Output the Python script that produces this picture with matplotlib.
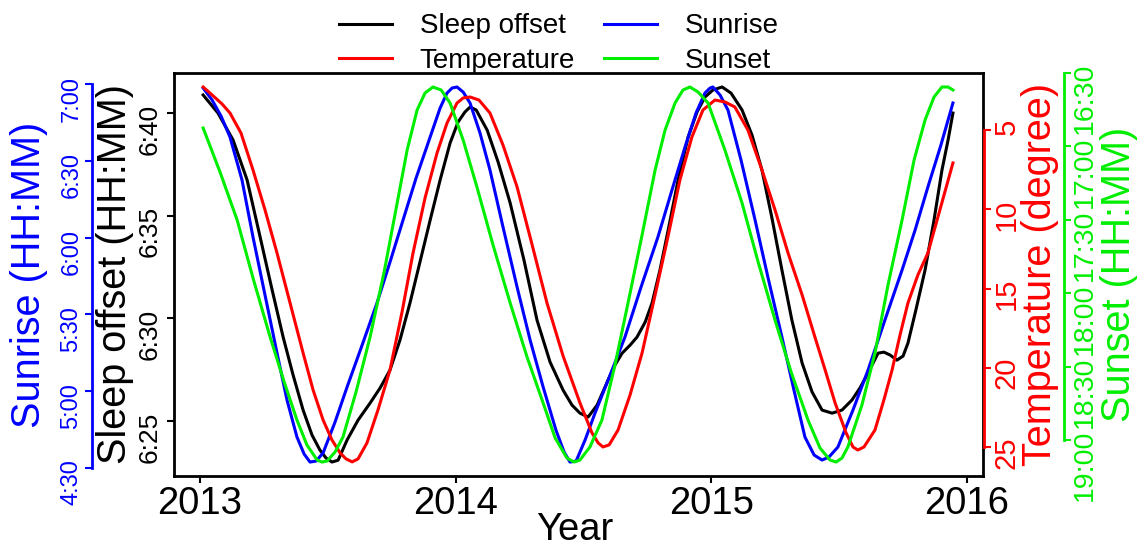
import matplotlib
matplotlib.use("Agg")
import matplotlib.pyplot as plt

plt.rcParams['font.family'] = ['Liberation Sans', 'DejaVu Sans']

# Sleep offset (minutes after midnight)
sleep_year = [2013.012, 2013.070, 2013.129, 2013.184, 2013.235, 2013.282, 2013.325, 2013.364,
              2013.403, 2013.438, 2013.469, 2013.493, 2013.516, 2013.540, 2013.575, 2013.618,
              2013.665, 2013.704, 2013.743, 2013.782, 2013.821, 2013.860, 2013.900, 2013.939,
              2013.978, 2014.009, 2014.036, 2014.056, 2014.080, 2014.123, 2014.166, 2014.213,
              2014.267, 2014.318, 2014.369, 2014.420, 2014.455, 2014.486, 2014.518, 2014.553,
              2014.596, 2014.623, 2014.651, 2014.682, 2014.709, 2014.741, 2014.768, 2014.799,
              2014.831, 2014.870, 2014.909, 2014.944, 2014.975, 2015.006, 2015.042, 2015.077,
              2015.120, 2015.159, 2015.198, 2015.237, 2015.276, 2015.315, 2015.355, 2015.394,
              2015.433, 2015.472, 2015.511, 2015.550, 2015.581, 2015.613, 2015.652, 2015.675,
              2015.699, 2015.726, 2015.750, 2015.769, 2015.800, 2015.836, 2015.871, 2015.902,
              2015.926, 2015.945]
sleep_min = [400.88, 400.00, 398.69, 396.74, 393.96, 391.38, 389.09, 387.24,
             385.54, 384.32, 383.59, 383.20, 383.01, 383.10, 384.08, 385.05,
             385.88, 386.61, 387.49, 388.95, 390.75, 392.74, 394.79, 396.74,
             398.54, 399.56, 400.05, 400.29, 400.15, 399.17, 397.61, 395.62,
             392.84, 389.92, 387.88, 386.51, 385.78, 385.39, 385.20, 385.78,
             387.00, 387.73, 388.31, 388.70, 389.09, 389.82, 390.75, 392.36,
             394.30, 396.74, 398.83, 400.05, 400.78, 401.12, 401.27, 400.97,
             400.15, 398.93, 397.22, 394.89, 392.36, 389.92, 387.83, 386.42,
             385.54, 385.39, 385.54, 386.03, 386.61, 387.34, 388.31, 388.36,
             388.22, 387.97, 388.17, 388.80, 390.41, 392.36, 394.79, 397.22,
             398.69, 400.00]

# Sunrise (minutes after midnight)
sunrise_year = [2013.012, 2013.047, 2013.082, 2013.117, 2013.164, 2013.207, 2013.254, 2013.301,
                2013.340, 2013.379, 2013.407, 2013.430, 2013.454, 2013.481, 2013.528, 2013.575,
                2013.634, 2013.692, 2013.743, 2013.794, 2013.845, 2013.900, 2013.939, 2013.966,
                2013.986, 2014.005, 2014.029, 2014.056, 2014.095, 2014.134, 2014.185, 2014.240,
                2014.291, 2014.342, 2014.392, 2014.424, 2014.447, 2014.471, 2014.506, 2014.545,
                2014.604, 2014.662, 2014.725, 2014.791, 2014.846, 2014.897, 2014.940, 2014.975,
                2014.995, 2015.006, 2015.034, 2015.065, 2015.116, 2015.171, 2015.222, 2015.276,
                2015.323, 2015.366, 2015.402, 2015.433, 2015.460, 2015.495, 2015.554, 2015.613,
                2015.679, 2015.746, 2015.797, 2015.847, 2015.898, 2015.945]
sunrise_min = [418.44, 413.75, 407.50, 399.30, 382.50, 360.24, 337.58, 314.93,
               296.57, 282.12, 275.48, 272.35, 272.74, 275.87, 287.98, 301.65,
               318.06, 334.46, 350.47, 366.88, 383.28, 399.30, 410.63, 416.48,
               418.44, 418.83, 416.88, 412.58, 400.86, 386.41, 364.14, 340.71,
               320.00, 301.65, 284.85, 276.26, 272.35, 272.74, 280.95, 291.49,
               306.33, 321.18, 340.71, 360.24, 378.60, 395.39, 408.67, 416.48,
               418.44, 418.83, 415.70, 409.84, 390.31, 366.88, 344.22, 321.18,
               300.48, 282.12, 275.09, 273.13, 274.30, 278.21, 292.66, 308.29,
               327.82, 347.35, 362.97, 379.77, 396.17, 412.58]

# Temperature (degree)
temp_year = [2013.012, 2013.047, 2013.086, 2013.117, 2013.160, 2013.207, 2013.254, 2013.301,
             2013.352, 2013.403, 2013.442, 2013.481, 2013.516, 2013.548, 2013.571, 2013.595,
             2013.618, 2013.653, 2013.696, 2013.743, 2013.790, 2013.833, 2013.880, 2013.927,
             2013.966, 2014.005, 2014.029, 2014.056, 2014.091, 2014.134, 2014.185, 2014.240,
             2014.299, 2014.357, 2014.420, 2014.486, 2014.533, 2014.557, 2014.576, 2014.600,
             2014.635, 2014.682, 2014.729, 2014.780, 2014.830, 2014.877, 2014.924, 2014.967,
             2015.014, 2015.053, 2015.092, 2015.143, 2015.198, 2015.249, 2015.300, 2015.355,
             2015.405, 2015.445, 2015.484, 2015.527, 2015.554, 2015.573, 2015.597, 2015.640,
             2015.675, 2015.707, 2015.738, 2015.769, 2015.808, 2015.847, 2015.894, 2015.945]
temp_deg = [2.29, 2.79, 3.36, 3.93, 5.19, 7.52, 10.04, 12.76,
            15.91, 19.06, 21.39, 23.28, 24.55, 25.37, 25.74, 25.93,
            25.74, 24.73, 22.65, 20.13, 16.48, 12.76, 9.29, 6.45,
            4.56, 3.30, 2.98, 2.92, 3.11, 3.93, 5.95, 8.59,
            12.25, 15.91, 19.25, 22.21, 24.10, 24.73, 24.99, 24.86,
            23.92, 21.71, 19.06, 15.40, 11.75, 8.15, 5.44, 3.74,
            3.11, 3.23, 3.55, 5.00, 7.52, 10.04, 12.76, 15.40,
            18.05, 20.13, 22.21, 24.10, 24.99, 25.18, 24.99, 23.92,
            22.02, 20.13, 17.93, 15.91, 14.14, 12.76, 10.04, 7.08]

# Sunset (minutes after midnight)
sunset_year = [2013.012, 2013.078, 2013.145, 2013.207, 2013.274, 2013.329, 2013.379, 2013.418,
               2013.458, 2013.477, 2013.497, 2013.528, 2013.559, 2013.610, 2013.665, 2013.720,
               2013.771, 2013.810, 2013.849, 2013.880, 2013.911, 2013.943, 2013.978, 2014.029,
               2014.083, 2014.146, 2014.213, 2014.279, 2014.342, 2014.389, 2014.435, 2014.463,
               2014.486, 2014.525, 2014.572, 2014.623, 2014.674, 2014.729, 2014.780, 2014.819,
               2014.858, 2014.889, 2014.916, 2014.948, 2014.987, 2015.053, 2015.120, 2015.183,
               2015.249, 2015.312, 2015.378, 2015.425, 2015.464, 2015.488, 2015.511, 2015.534,
               2015.589, 2015.640, 2015.691, 2015.746, 2015.793, 2015.836, 2015.871, 2015.902,
               2015.926, 2015.945]
sunset_min = [1012.48, 1030.46, 1050.08, 1073.78, 1097.90, 1116.29, 1131.82, 1142.04,
              1148.17, 1148.99, 1148.58, 1144.90, 1138.77, 1120.38, 1097.90, 1071.33,
              1043.13, 1021.47, 1005.12, 998.17, 995.72, 996.95, 1002.26, 1017.38,
              1036.59, 1060.30, 1084.00, 1106.07, 1124.87, 1139.18, 1147.35, 1148.99,
              1148.17, 1142.85, 1131.82, 1109.34, 1084.00, 1056.21, 1029.64, 1013.30,
              1002.26, 996.95, 995.72, 997.77, 1002.26, 1021.47, 1043.13, 1067.24,
              1090.95, 1112.20, 1131.82, 1143.26, 1148.17, 1148.99, 1147.35, 1142.85,
              1125.69, 1104.44, 1076.64, 1050.08, 1025.56, 1009.21, 999.81, 995.72,
              995.72, 996.95]

years = [2013, 2014, 2015, 2016]
sleep_ticks = [385, 390, 395, 400]
sleep_labels = ['6:25', '6:30', '6:35', '6:40']
sunrise_ticks = [270, 300, 330, 360, 390, 420]
sunrise_labels = ['4:30', '5:00', '5:30', '6:00', '6:30', '7:00']
temp_ticks = [5, 10, 15, 20, 25]
sunset_ticks = [990, 1020, 1050, 1080, 1110, 1140]
sunset_labels = ['16:30', '17:00', '17:30', '18:00', '18:30', '19:00']

RED, BLUE, GREEN = '#ff0000', '#0000ff', '#00ee00'
W, H = 1144, 550

fig = plt.figure(figsize=(11.44, 5.5), dpi=100)
ax = fig.add_axes([174 / W, 1 - 476 / H, 809 / W, 403 / H])
ax.set_xlim(2012.898, 2016.0626)
for s in ax.spines.values():
    s.set_linewidth(2)

l1, = ax.plot(sleep_year, sleep_min, color='black', lw=2.2, label='Sleep offset', zorder=5)
ax.set_ylim(382.33, 401.95)
ax.set_yticks(sleep_ticks, sleep_labels)
ax.tick_params(axis='y', labelrotation=90, labelsize=19, length=5, width=1.5, pad=4)
ax.set_xticks(years, [str(y) for y in years])
ax.tick_params(axis='x', labelsize=27.5, length=5, width=1.5, pad=2)

axb = ax.twinx()
l2, = axb.plot(sunrise_year, sunrise_min, color=BLUE, lw=2.2, label='Sunrise')
axb.set_ylim(266.9, 424.3)
axb.yaxis.set_ticks_position('left')
axb.spines['left'].set_position(('axes', (92 - 174) / 809))
axb.spines['left'].set_bounds(270, 420)
axb.spines['left'].set_color(BLUE)
axb.spines['left'].set_linewidth(2)
for k in ['right', 'top', 'bottom']:
    axb.spines[k].set_visible(False)
axb.set_yticks(sunrise_ticks, sunrise_labels)
axb.tick_params(axis='y', labelrotation=90, labelsize=17, length=5, width=1.5, pad=2,
                colors=BLUE)

axr = ax.twinx()
l3, = axr.plot(temp_year, temp_deg, color=RED, lw=2.2, label='Temperature')
axr.set_ylim(26.82, 1.406)
axr.spines['right'].set_position(('axes', (984 - 174) / 809))
axr.spines['right'].set_bounds(5, 25)
axr.spines['right'].set_color(RED)
axr.spines['right'].set_linewidth(2)
for k in ['left', 'top', 'bottom']:
    axr.spines[k].set_visible(False)
axr.set_yticks(temp_ticks, [str(t) for t in temp_ticks])
axr.tick_params(axis='y', labelrotation=90, labelsize=21, length=5, width=1.5, pad=1,
                colors=RED)

axg = ax.twinx()
l4, = axg.plot(sunset_year, sunset_min, color=GREEN, lw=2.2, label='Sunset')
axg.set_ylim(1154.7, 990)
axg.spines['right'].set_position(('axes', (1064 - 174) / 809))
axg.spines['right'].set_bounds(990, 1140)
axg.spines['right'].set_color(GREEN)
axg.spines['right'].set_linewidth(2)
for k in ['left', 'top', 'bottom']:
    axg.spines[k].set_visible(False)
axg.set_yticks(sunset_ticks, sunset_labels)
axg.tick_params(axis='y', labelrotation=90, labelsize=20.5, length=5, width=1.5, pad=1,
                colors=GREEN)

yc = 1 - 274.5 / H
fig.text(29 / W, yc, 'Sunrise (HH:MM)', color=BLUE, fontsize=28.5, rotation=90,
         ha='center', va='center')
fig.text(115 / W, yc, 'Sleep offset (HH:MM)', color='black', fontsize=28.5, rotation=90,
         ha='center', va='center')
fig.text(1040 / W, yc, 'Temperature (degree)', color=RED, fontsize=28.5, rotation=90,
         ha='center', va='center')
fig.text(1119 / W, yc, 'Sunset (HH:MM)', color=GREEN, fontsize=28.5, rotation=90,
         ha='center', va='center')
fig.text(575 / W, 1 - 530 / H, 'Year', fontsize=27.5, ha='center', va='center')

fig.legend([l1, l3, l2, l4], ['Sleep offset', 'Temperature', 'Sunrise', 'Sunset'],
           ncol=2, loc='center', bbox_to_anchor=(559 / W, 1 - 43.5 / H), frameon=False,
           fontsize=20, handlelength=1.9, handletextpad=1.0, columnspacing=1.05,
           labelspacing=0.3, borderpad=0)

fig.savefig('out.png', dpi=100)
